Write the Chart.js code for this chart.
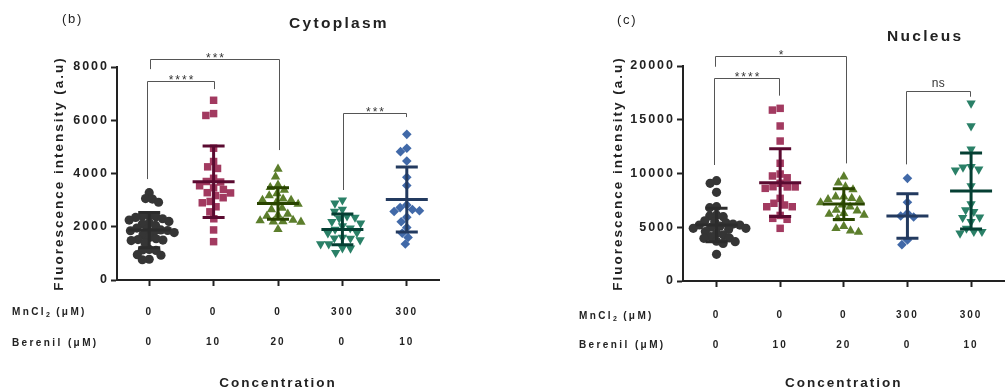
<!DOCTYPE html>
<html>
<head>
<meta charset="utf-8">
<script src="https://cdn.jsdelivr.net/npm/chart.js@4.4.1/dist/chart.umd.min.js"></script>
<style>
  html, body { margin: 0; padding: 0; background: #fff; }
  body { width: 1006px; height: 392px; overflow: hidden; position: relative;
         font-family: "Liberation Sans", Arial, sans-serif; color: #222; }
  canvas { position: absolute; top: 0; }
  #cyto { left: 0; }
  #nuc { left: 500px; }
  .lbl { position: absolute; white-space: nowrap; line-height: 1; }
  .tag { font-size: 13px; letter-spacing: 1.7px; }
  .title { font-size: 15.5px; font-weight: bold; letter-spacing: 2.3px; }
  .row { font-size: 10px; font-weight: bold; letter-spacing: 2.4px; }
  .row sub { font-size: 7px; vertical-align: -2px; line-height: 0; letter-spacing: 1px; }
</style>
</head>
<body>
<canvas id="cyto" width="500" height="392"></canvas>
<canvas id="nuc" width="510" height="392"></canvas>

<div class="lbl tag" style="left:62px;top:12px">(b)</div>
<div class="lbl title" style="left:289px;top:15px">Cytoplasm</div>
<div class="lbl row" style="left:12px;top:307px">MnCl<sub>2</sub> (μM)</div>
<div class="lbl row" style="left:12px;top:338px">Berenil (μM)</div>

<div class="lbl tag" style="left:617px;top:13px">(c)</div>
<div class="lbl title" style="left:887px;top:28px">Nucleus</div>
<div class="lbl row" style="left:579px;top:311px">MnCl<sub>2</sub> (μM)</div>
<div class="lbl row" style="left:579px;top:340px">Berenil (μM)</div>

<script>
// --- Data ---
const mnLabels = ['0', '0', '0', '300', '300'];
const berenilLabels = ['0', '10', '20', '0', '10'];

// Cytoplasm, one array per condition (in plot order)
const cytoCtrl = [3280, 3060, 3040, 2920, 2420, 2400, 2380, 2350, 2300, 2250, 2200, 2150, 2100, 2050, 1950, 1900, 1880, 1860, 1850, 1800, 1780, 1700, 1600, 1550, 1520, 1500, 1480, 1400, 1150, 1130, 1110, 950, 930, 780, 760];
const cytoBer10 = [6750, 6250, 6180, 4950, 4450, 4250, 4190, 3820, 3700, 3680, 3540, 3460, 3400, 3280, 3270, 3170, 3090, 2950, 2900, 2750, 2560, 2300, 1880, 1440];
const cytoBer20 = [4170, 3880, 3570, 3480, 3380, 3250, 3170, 3050, 3000, 3000, 2900, 2850, 2700, 2650, 2480, 2440, 2400, 2250, 2230, 2200, 2190, 2180, 1900];
const cytoMn300 = [3000, 2880, 2650, 2570, 2400, 2350, 2320, 2190, 2130, 2030, 1950, 1900, 1780, 1760, 1600, 1570, 1560, 1500, 1350, 1350, 1200, 1190, 1030];
const cytoMn300Ber10 = [5470, 4950, 4820, 4470, 3860, 3550, 2820, 2720, 2650, 2600, 2570, 2360, 2190, 1970, 1760, 1600, 1350];
const cytoMeans = [1875, 3690, 2875, 1900, 3025];
const cytoSDs = [660, 1340, 590, 575, 1220];

// Nucleus, one array per condition (in plot order)
const nucCtrl = [9330, 9090, 8250, 6910, 6820, 6140, 6050, 5980, 5600, 5520, 5400, 5300, 5210, 5200, 5100, 5000, 4900, 4900, 4800, 4600, 4450, 4300, 4120, 4000, 3970, 3700, 3660, 3500, 2480];
const nucBer10 = [16060, 15900, 14420, 13020, 10950, 9950, 9770, 9600, 9090, 8770, 8750, 8750, 8620, 7690, 7230, 7070, 6910, 6910, 6100, 5830, 5740, 4900];
const nucBer20 = [9700, 9140, 8770, 8500, 7840, 7840, 7700, 7600, 7530, 7300, 7100, 6900, 6600, 6540, 6290, 6230, 6140, 5800, 5100, 4900, 4680, 4550];
const nucMn300 = [9550, 7320, 6290, 6050, 5950, 3810, 3380];
const nucMn300Ber10 = [16530, 14420, 12250, 10630, 10580, 10390, 10300, 8840, 7160, 6600, 6450, 5930, 5900, 5520, 4900, 4590, 4590, 4440];
const nucMeans = [5210, 9145, 7160, 6050, 8370];
const nucSDs = [1550, 3150, 1430, 2070, 3530];

// Significance brackets: group positions (x) and values (y) in data units
const cytoBrackets = [
    { x1: 0.96, x2: 2.0, top: 7490, y1: 3790, y2: 7170, text: '****' },
    { x1: 1.01, x2: 3.01, top: 8290, y1: 7920, y2: 4880, text: '***' },
    { x1: 4.01, x2: 4.99, top: 6280, y1: 3380, y2: 6120, text: '***' },
];
const nucBrackets = [
    { x1: 0.96, x2: 1.98, top: 18850, y1: 10790, y2: 17240, text: '****' },
    { x1: 0.98, x2: 3.04, top: 20960, y1: 19930, y2: 10940, text: '*' },
    { x1: 3.97, x2: 4.99, top: 17670, y1: 10850, y2: 17140, text: 'ns' },
];

// --- Styles ---
const FONT = '"Liberation Sans", Arial, sans-serif';
const INK = '#222';

const cytoStyle = {
    shapes: ['circle', 'rect', 'triangle', 'triangle', 'rectRot'],
    rotations: [0, 0, 0, 180, 0],
    radii: [4.6, 5.3, 5.4, 5.4, 4.8],
    colors: ['#353535', '#a23a60', '#5c7e2c', '#2a8067', '#4169a8'],
    barColors: ['#2c2c2c', '#5a0a30', '#294400', '#053f33', '#233a5f'],
};
const nucStyle = {
    shapes: ['circle', 'rect', 'triangle', 'rectRot', 'triangle'],
    rotations: [0, 0, 0, 0, 180],
    radii: [4.6, 5.3, 5.4, 4.8, 5.4],
    colors: ['#353535', '#a23a60', '#5c7e2c', '#4169a8', '#2a8067'],
    barColors: ['#2c2c2c', '#5a0a30', '#294400', '#233a5f', '#053f33'],
};

// --- Plugins ---
const spacing = {
    id: 'spacing',
    beforeDraw(chart) { chart.ctx.letterSpacing = '2px'; }
};

const makeErrorBars = (means, sds, colors) => ({
    id: 'errorBars',
    afterDatasetsDraw(chart) {
        const { ctx, scales: { x, y } } = chart;
        means.forEach((m, i) => {
            const cx = x.getPixelForValue(i + 1);
            const top = y.getPixelForValue(m + sds[i]);
            const bot = y.getPixelForValue(m - sds[i]);
            const mid = y.getPixelForValue(m);
            ctx.save();
            ctx.strokeStyle = colors[i];
            ctx.lineWidth = 3;
            ctx.beginPath();
            ctx.moveTo(cx, top); ctx.lineTo(cx, bot);
            ctx.moveTo(cx - 11, top); ctx.lineTo(cx + 11, top);
            ctx.moveTo(cx - 11, bot); ctx.lineTo(cx + 11, bot);
            ctx.moveTo(cx - 21, mid); ctx.lineTo(cx + 21, mid);
            ctx.stroke();
            ctx.restore();
        });
    }
});

const makeBrackets = (brackets) => ({
    id: 'brackets',
    afterDraw(chart) {
        const { ctx, scales: { x, y } } = chart;
        brackets.forEach(b => {
            const xa = Math.round(x.getPixelForValue(b.x1)) + 0.5;
            const xb = Math.round(x.getPixelForValue(b.x2)) + 0.5;
            const yt = Math.round(y.getPixelForValue(b.top)) + 0.5;
            ctx.save();
            ctx.strokeStyle = '#555';
            ctx.lineWidth = 1;
            ctx.beginPath();
            ctx.moveTo(xa, y.getPixelForValue(b.y1));
            ctx.lineTo(xa, yt);
            ctx.lineTo(xb, yt);
            ctx.lineTo(xb, y.getPixelForValue(b.y2));
            ctx.stroke();
            const stars = b.text.includes('*');
            ctx.fillStyle = '#333';
            ctx.font = '12px ' + FONT;
            ctx.letterSpacing = stars ? '2px' : '0.5px';
            ctx.textAlign = 'center';
            ctx.textBaseline = 'alphabetic';
            ctx.fillText(b.text, (xa + xb) / 2 + (stars ? 1 : 0), stars ? yt + 2 : yt - 5);
            ctx.restore();
        });
    }
});

// deterministic beeswarm: nearest free horizontal offset (pixels) for each point
function swarmOffsets(pys, d) {
    const order = pys.map((_, i) => i).sort((a, b) => pys[a] - pys[b]);
    const placed = [];
    const offs = new Array(pys.length);
    order.forEach(i => {
        const py = pys[i];
        const blocks = [];
        placed.forEach(p => {
            const dy = Math.abs(p.y - py);
            if (dy < d) {
                const w = Math.sqrt(d * d - dy * dy);
                blocks.push([p.x - w, p.x + w]);
            }
        });
        const cands = [0];
        blocks.forEach(b => cands.push(b[0], b[1]));
        cands.sort((a, b) => Math.abs(a) - Math.abs(b));
        const px = cands.find(c => blocks.every(b => c <= b[0] + 1e-6 || c >= b[1] - 1e-6));
        offs[i] = px;
        placed.push({ x: px, y: py });
    });
    return offs;
}

// --- Panel builder ---
function buildPanel(id, groups, means, sds, brackets, style, lay) {
    const axisGrid = { drawOnChartArea: false, tickLength: 6, tickWidth: 2, tickColor: INK };
    const axisBorder = { color: INK, width: 2 };

    const chart = new Chart(document.getElementById(id), {
        type: 'scatter',
        data: {
            datasets: groups.map((vals, g) => ({
                data: vals.map(v => ({ x: g + 1, y: v })),
                pointStyle: style.shapes[g],
                rotation: style.rotations[g],
                pointRadius: style.radii[g],
                pointHoverRadius: style.radii[g],
                backgroundColor: style.colors[g],
                borderWidth: 0,
                clip: false,
            }))
        },
        options: {
            responsive: false,
            animation: false,
            events: [],
            layout: { padding: lay.padding },
            plugins: { legend: { display: false }, tooltip: { enabled: false } },
            scales: {
                x: {
                    type: 'linear',
                    min: lay.xMin,
                    max: lay.xMax,
                    afterBuildTicks: s => { s.ticks = mnLabels.map((_, i) => ({ value: i + 1 })); },
                    afterFit: s => { s.height = lay.xHeight; },
                    grid: axisGrid,
                    border: axisBorder,
                    ticks: {
                        autoSkip: false, maxRotation: 0, padding: lay.xTickPad, color: INK,
                        font: { family: FONT, size: 10, weight: 'bold', lineHeight: 3 },
                        callback: (v, i) => [mnLabels[i], berenilLabels[i]]
                    },
                    title: {
                        display: true, text: 'Concentration', color: INK,
                        font: { family: FONT, size: 13.5, weight: 'bold' },
                        padding: { top: 0, bottom: 1 }
                    }
                },
                y: {
                    min: 0,
                    max: lay.yMax,
                    afterFit: s => { s.width = lay.yWidth; },
                    grid: axisGrid,
                    border: axisBorder,
                    ticks: {
                        stepSize: lay.yStep, padding: 2, color: INK,
                        font: { family: FONT, size: 12.5, weight: 'bold' },
                        callback: v => String(v)
                    },
                    title: {
                        display: true, text: 'Fluorescence intensity (a.u)', color: INK,
                        font: { family: FONT, size: 13.5, weight: 'bold' },
                        padding: { top: lay.yTitlePad, bottom: 0 }
                    }
                }
            }
        },
        plugins: [spacing, makeErrorBars(means, sds, style.barColors), makeBrackets(brackets)]
    });

    // spread the points of each group sideways through the chart's own scales
    const xs = chart.scales.x, ys = chart.scales.y;
    chart.data.datasets.forEach((ds, g) => {
        const cx = xs.getPixelForValue(g + 1);
        const pys = groups[g].map(v => ys.getPixelForValue(v));
        const offs = swarmOffsets(pys, style.radii[g] * 1.5);
        ds.data = groups[g].map((v, i) => ({ x: xs.getValueForPixel(cx + offs[i]), y: v }));
    });
    chart.update('none');
    return chart;
}

buildPanel('cyto',
    [cytoCtrl, cytoBer10, cytoBer20, cytoMn300, cytoMn300Ber10],
    cytoMeans, cytoSDs, cytoBrackets, cytoStyle,
    { padding: { left: 0, right: 61, top: 67, bottom: 0 }, xMin: 0.5, xMax: 5.5,
      xHeight: 112, xTickPad: 11.5, yMax: 8000, yStep: 2000, yWidth: 117, yTitlePad: 51 });

buildPanel('nuc',
    [nucCtrl, nucBer10, nucBer20, nucMn300, nucMn300Ber10],
    nucMeans, nucSDs, nucBrackets, nucStyle,
    { padding: { left: 0, right: 1, top: 66, bottom: 0 }, xMin: 0.473, xMax: 5.527,
      xHeight: 111, xTickPad: 13.5, yMax: 20000, yStep: 5000, yWidth: 183, yTitlePad: 110 });
</script>
</body>
</html>
